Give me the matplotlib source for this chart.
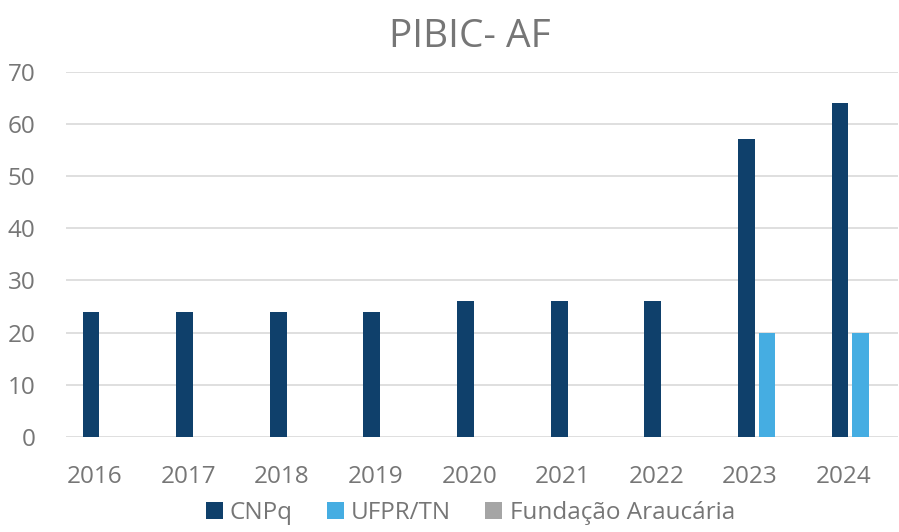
import numpy as np
import matplotlib
matplotlib.use("Agg")
import matplotlib.pyplot as plt

# data
years = ["2016", "2017", "2018", "2019", "2020", "2021", "2022", "2023", "2024"]
cnpq = [24, 24, 24, 24, 26, 26, 26, 57, 64]
ufpr_tn = [0, 0, 0, 0, 0, 0, 0, 20, 20]
fundacao = [0, 0, 0, 0, 0, 0, 0, 0, 0]
series_names = ["CNPq", "UFPR/TN", "Fundação Araucária"]
colors = ["#0f406b", "#45ade2", "#a5a5a5"]

plt.rcParams["font.family"] = ["Open Sans", "DejaVu Sans"]
text_gray = "#767676"

fig = plt.figure(figsize=(8.99, 5.32), dpi=100)
ax = fig.add_axes([66 / 899, 1 - 437 / 532, 832 / 899, (437 - 71.6) / 532])

x = np.arange(len(years))
width = 0.18
step = 0.22
for i, (vals, name) in enumerate(zip([cnpq, ufpr_tn, fundacao], series_names)):
    ax.bar(x + i * step, vals, width, color=colors[i], label=name, zorder=3)

ax.set_ylim(0, 70)
ax.set_yticks(range(0, 71, 10))
ax.set_xlim(-0.267, 8.62)
ax.set_xticks(x + 0.04)
ax.set_xticklabels(years)
ax.yaxis.grid(True, color="#d9d9d9", linewidth=1.2, zorder=0)
ax.set_axisbelow(True)
for s in ax.spines.values():
    s.set_visible(False)
ax.tick_params(axis="both", length=0, labelsize=17.5, labelcolor=text_gray)
ax.tick_params(axis="x", pad=20)
ax.tick_params(axis="y", pad=22)

fig.text(0.523, 0.93, "PIBIC- AF", ha="center", va="center", fontsize=28, color=text_gray)

# legend sits at the very bottom, kept just inside the image
fig.legend(loc="lower center", bbox_to_anchor=(0.523, -0.028), ncol=3, frameon=False,
           fontsize=17.5, labelcolor=text_gray, handlelength=0.7, handleheight=0.7,
           handletextpad=0.3, columnspacing=1.4)

fig.savefig("out.png", dpi=100)
